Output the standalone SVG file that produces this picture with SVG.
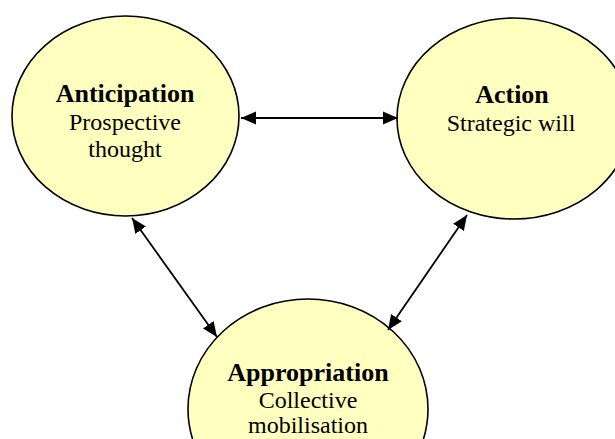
<svg xmlns="http://www.w3.org/2000/svg" width="615" height="439" viewBox="0 0 615 439">
<defs>
<style>
.node{fill:#ffffc0;stroke:#000;stroke-width:1.6}
.t{font-family:"Liberation Serif","Times New Roman",serif;text-anchor:middle;fill:#000}
.b{font-weight:bold;font-size:26px}
.r{font-size:24px}
.c{stroke:#000;stroke-width:1.8;fill:none;marker-start:url(#ah);marker-end:url(#ah)}
</style>
<marker id="ah" markerUnits="userSpaceOnUse" markerWidth="16" markerHeight="14" refX="15" refY="7" orient="auto-start-reverse">
<path d="M0,0.5 L15,7 L0,13.5 z" fill="#000"/>
</marker>
</defs>
<rect width="615" height="439" fill="#fff"/>
<g id="anticipation">
<ellipse class="node" cx="125.5" cy="116" rx="113.5" ry="100"/>
<text class="t b" x="125" y="102">Anticipation</text>
<text class="t r" x="125" y="130">Prospective</text>
<text class="t r" x="125" y="157">thought</text>
</g>
<g id="action">
<ellipse class="node" cx="514" cy="118.5" rx="117" ry="100.5"/>
<text class="t b" x="512" y="103">Action</text>
<text class="t r" x="511" y="131">Strategic will</text>
</g>
<g id="appropriation">
<ellipse class="node" cx="308" cy="409" rx="120" ry="110"/>
<text class="t b" x="308" y="381">Appropriation</text>
<text class="t r" x="308" y="408">Collective</text>
<text class="t r" x="308" y="433">mobilisation</text>
</g>
<g id="connectors">
<line class="c" x1="241" y1="118" x2="398" y2="118"/>
<line class="c" x1="132" y1="218" x2="217" y2="337"/>
<line class="c" x1="467" y1="215" x2="388" y2="330"/>
</g>
</svg>
